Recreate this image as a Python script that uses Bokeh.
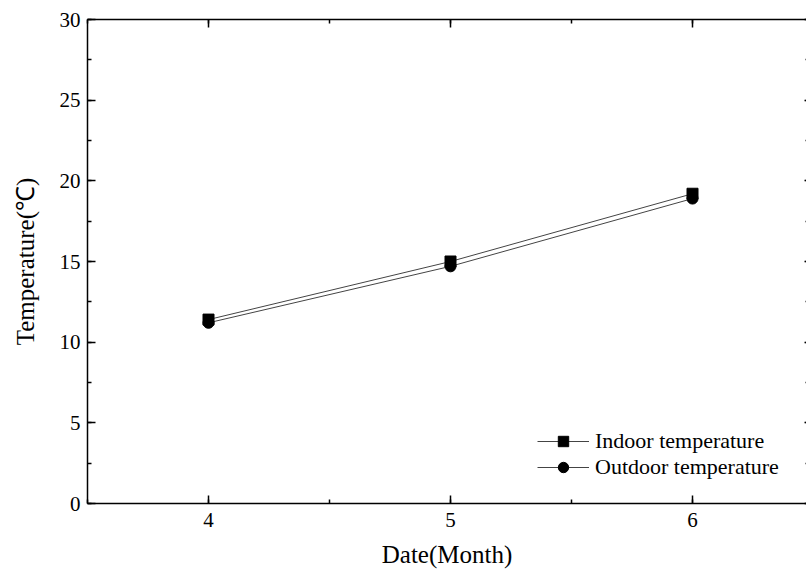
from bokeh.plotting import figure
from bokeh.models import (Range1d, LinearAxis, SingleIntervalTicker, Legend, LegendItem)
from bokeh.embed import file_html
from bokeh.resources import INLINE

# Data
months = [4, 5, 6]
indoor = [11.4, 15.0, 19.2]
outdoor = [11.2, 14.7, 18.9]
month_labels = {4: "4", 5: "5", 6: "6"}

FONT = "Liberation Serif"

p = figure(width=806, height=571, output_backend="svg", toolbar_location=None,
           x_range=Range1d(3.5, 6.471), y_range=Range1d(0, 30),
           min_border_left=87, min_border_right=0, min_border_top=19, min_border_bottom=68,
           x_axis_label="Date(Month)", y_axis_label="Temperature(\u2103)")
p.grid.visible = False
p.outline_line_color = None
p.background_fill_color = "white"
p.border_fill_color = "white"

xt = SingleIntervalTicker(interval=1, num_minor_ticks=2)
yt = SingleIntervalTicker(interval=5, num_minor_ticks=2)

def style(ax, labels=True):
    ax.axis_line_color = "black"
    ax.axis_line_width = 1.5
    ax.major_tick_line_color = "black"
    ax.minor_tick_line_color = "black"
    ax.major_tick_line_width = 1.5
    ax.minor_tick_line_width = 1.5
    ax.major_tick_in = 8
    ax.major_tick_out = 0
    ax.minor_tick_in = 4
    ax.minor_tick_out = 0
    if labels:
        ax.major_label_text_font = FONT
        ax.major_label_text_font_size = "21px"
        ax.major_label_text_color = "black"
        ax.axis_label_text_font = FONT
        ax.axis_label_text_font_size = "24px"
        ax.axis_label_text_font_style = "normal"
        ax.axis_label_text_color = "black"

xa = p.xaxis[0]
xa.ticker = xt
xa.major_label_overrides = month_labels
style(xa)
xa.major_label_standoff = 9
xa.axis_label_standoff = 11
xa.axis_label_text_font_size = "25px"

ya = p.yaxis[0]
ya.ticker = yt
style(ya)
ya.major_label_standoff = 7
ya.axis_label_standoff = 18
ya.axis_label_text_font_size = "25px"

top = LinearAxis(ticker=SingleIntervalTicker(interval=1, num_minor_ticks=2))
style(top, labels=False)
top.major_label_text_font_size = "0px"
top.major_label_standoff = 0
p.add_layout(top, "above")

right = LinearAxis(ticker=SingleIntervalTicker(interval=5, num_minor_ticks=2))
style(right, labels=False)
right.axis_line_color = None
right.major_tick_in = 2
right.minor_tick_in = 1
right.major_label_text_font_size = "0px"
right.major_label_standoff = 0
p.add_layout(right, "right")

l1 = p.line(months, indoor, line_color="#444444", line_width=1)
l2 = p.line(months, outdoor, line_color="#444444", line_width=1)
s1 = p.scatter(months, indoor, marker="square", size=11, fill_color="black", line_color="black")
s2 = p.scatter(months, outdoor, marker="circle", size=11, fill_color="black", line_color="black")

legend = Legend(items=[LegendItem(label="Indoor temperature", renderers=[l1, s1]),
                       LegendItem(label="Outdoor temperature", renderers=[l2, s2])],
                location=(450, 23))
legend.border_line_color = None
legend.background_fill_alpha = 0
legend.padding = 0
legend.margin = 0
legend.spacing = 0
legend.glyph_width = 52
legend.glyph_height = 26
legend.label_height = 26
legend.label_standoff = 6
legend.label_text_font = FONT
legend.label_text_font_size = "22px"
legend.label_text_color = "black"
p.add_layout(legend)

open("out.html", "w").write(file_html(p, INLINE))
